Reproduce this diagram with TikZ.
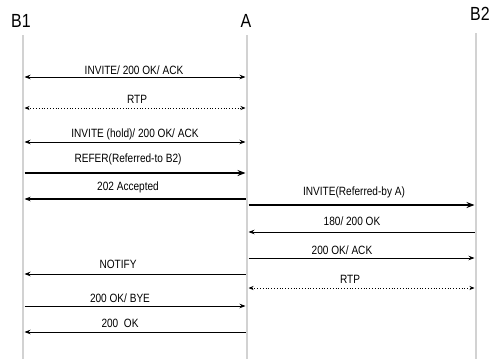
\documentclass[tikz,border=0pt]{standalone}
\usepackage{fontspec}
\setmainfont[FakeStretch=0.84]{Liberation Sans}
\usetikzlibrary{arrows.meta}
\begin{document}
\begin{tikzpicture}[x=1pt,y=-1pt,
  lifeline/.style={draw=gray!35,line width=2.6pt},
  head/.style={font=\fontsize{19}{19}\selectfont,anchor=base,inner sep=0pt},
  lbl/.style={font=\fontsize{12}{12}\selectfont,anchor=base,inner sep=0pt},
  msg/.style={line width=0.8pt,-{Stealth[length=6pt,width=4.5pt]}},
  msgb/.style={line width=0.8pt,{Stealth[length=6pt,width=4.5pt]}-{Stealth[length=6pt,width=4.5pt]}},
  msgthick/.style={line width=1.4pt,-{Stealth[length=8pt,width=6pt]}},
  rtp/.style={line width=0.8pt,dotted,{Stealth[length=5pt,width=4pt]}-{Stealth[length=5pt,width=4pt]}}]
\useasboundingbox (0,0) rectangle (496,359);
% lifelines
\coordinate (b1t) at (23,35); \coordinate (b1b) at (23,359);
\coordinate (at) at (247,35); \coordinate (ab) at (247,359);
\coordinate (b2t) at (476,33); \coordinate (b2b) at (476,359);
\draw[lifeline] (b1t) -- (b1b);
\draw[lifeline] (at) -- (ab);
\draw[lifeline] (b2t) -- (b2b);
% headers
\node[head] (hb1) at (21,27) {B1};
\node[head] (ha) at (246,27) {A};
\node[head] (hb2) at (480,20) {B2};
% message endpoints
\foreach \n/\y in {1/77,2/108,3/142,4/173,5/199,9/274,11/306,12/332}{
  \coordinate (l\n) at (24.5,\y); \coordinate (r\n) at (245.5,\y);}
\foreach \n/\y in {6/205,7/232,8/258,10/288}{
  \coordinate (l\n) at (248.5,\y); \coordinate (r\n) at (474.5,\y);}
% B1 - A
\draw[msgb] (l1) -- (r1);
\node[lbl] (t1) at (134,74) {INVITE/ 200 OK/ ACK};
\draw[rtp] (l2) -- (r2);
\node[lbl] (t2) at (137,103) {RTP};
\draw[msgb] (l3) -- (r3);
\node[lbl] (t3) at (135,137) {INVITE (hold)/ 200 OK/ ACK};
\draw[msgthick] (l4) -- (r4);
\node[lbl] (t4) at (128,162) {REFER(Referred-to B2)};
\draw[msg,line width=1.1pt] (r5) -- (l5);
\node[lbl] (t5) at (128,190) {202 Accepted};
\draw[msg] (r9) -- (l9);
\node[lbl] (t9) at (118,268) {NOTIFY};
\draw[msg] (l11) -- (r11);
\node[lbl] (t11) at (120,302) {200 OK/ BYE};
\draw[msg] (r12) -- (l12);
\node[lbl] (t12) at (120,327) {200 \ OK};
% A - B2
\draw[msgthick] (l6) -- (r6);
\node[lbl] (t6) at (354,195) {INVITE(Referred-by A)};
\draw[msg] (r7) -- (l7);
\node[lbl] (t7) at (352,225) {180/ 200 OK};
\draw[msg] (l8) -- (r8);
\node[lbl] (t8) at (342,254) {200 OK/ ACK};
\draw[rtp] (l10) -- (r10);
\node[lbl] (t10) at (350,283) {RTP};
\end{tikzpicture}
\end{document}
